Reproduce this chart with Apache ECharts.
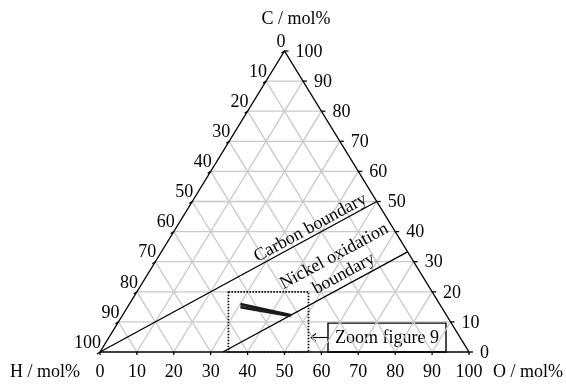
<!DOCTYPE html>
<html><head><meta charset="utf-8">
<script src="https://cdn.jsdelivr.net/npm/echarts@6/dist/echarts.min.js"></script>
<style>html,body{margin:0;padding:0;background:#fff}#chart{width:566px;height:387px}</style>
</head><body><div id="chart"></div>
<script>
// Ternary C-H-O diagram, compositions in mol% given as [H, O, C]
const ticks = [0, 10, 20, 30, 40, 50, 60, 70, 80, 90, 100];
const gridSteps = [10, 20, 30, 40, 50, 60, 70, 80, 90];
const carbonBoundary = [[100, 0, 0], [0, 50, 50]];
const nickelBoundary = [[66.7, 33.3, 0], [0, 66.7, 33.3]];
const pathA = [[54.0, 30.1, 15.9], [42.0, 45.8, 12.2]];
const pathB = [[54.5, 30.6, 14.9], [42.4, 45.6, 12.0]];
// zoomed region corners (bottom-left, top-right) as [H, O, C]
const zoomRegion = [[65.2, 34.8, 0], [33.5, 46.5, 20]];

const FONT = '18px "Liberation Serif", "Times New Roman", serif';
const INK = '#000';
const GRAY = '#c8c8c8';

// ternary -> cartesian (x along base, y = C)
function tern(p) { return [p[1] + p[2] / 2, p[2]]; }

// grid segments
const gridSegs = [];
gridSteps.forEach(k => {
  gridSegs.push([tern([100 - k, 0, k]), tern([0, 100 - k, k])]);   // constant C
  gridSegs.push([tern([100 - k, k, 0]), tern([0, k, 100 - k])]);   // constant O
  gridSegs.push([tern([k, 100 - k, 0]), tern([k, 0, 100 - k])]);   // constant H
});
const gridData = gridSegs.map(s => [s[0][0], s[0][1], s[1][0], s[1][1]]);

// tick points on each side: side 0 bottom (O), 1 right (C), 2 left (H)
const tickData = [];
ticks.forEach(t => {
  const b = tern([100 - t, t, 0]);
  tickData.push([b[0], b[1], 0, t]);
  const r = tern([0, 100 - t, t]);
  tickData.push([r[0], r[1], 1, t]);
  const l = tern([t, 0, 100 - t]);
  tickData.push([l[0], l[1], 2, t]);
});

function segSeries(name, pts, style) {
  return {
    type: 'custom', name: name, coordinateSystem: 'cartesian2d', silent: true,
    data: [0],
    renderItem: function (params, api) {
      const points = pts.map(p => api.coord(tern(p)));
      return { type: 'polyline', shape: { points: points }, style: style };
    }
  };
}

function textStyle(text, x, y, align) {
  return { text: text, x: x, y: y, fill: INK, font: FONT,
    textAlign: align, align: align, textVerticalAlign: 'middle', verticalAlign: 'middle' };
}

function boundaryLabel(line, t, lines) {
  return {
    type: 'custom', coordinateSystem: 'cartesian2d', silent: true, data: [0],
    renderItem: function (params, api) {
      const a = api.coord(tern(line[0])), b = api.coord(tern(line[1]));
      const dx = b[0] - a[0], dy = b[1] - a[1], L = Math.hypot(dx, dy);
      const nx = dy / L, ny = -dx / L;
      const bx = a[0] + dx * t, by = a[1] + dy * t;
      const rot = Math.atan2(-dy, dx);
      return {
        type: 'group',
        children: lines.map(l => ({
          type: 'text',
          x: bx + nx * l.off, y: by + ny * l.off, rotation: rot,
          style: textStyle(l.text, 0, 0, 'center')
        }))
      };
    }
  };
}

const chart = echarts.init(document.getElementById('chart'));
chart.setOption({
  animation: false,
  backgroundColor: '#fff',
  grid: { left: 100, top: 51, width: 369, height: 301 },
  xAxis: { type: 'value', min: 0, max: 100, show: false },
  yAxis: { type: 'value', min: 0, max: 100, show: false },
  series: [
    {
      type: 'custom', coordinateSystem: 'cartesian2d', silent: true,
      data: gridData,
      renderItem: function (params, api) {
        const a = api.coord([api.value(0), api.value(1)]);
        const b = api.coord([api.value(2), api.value(3)]);
        return { type: 'line', shape: { x1: a[0], y1: a[1], x2: b[0], y2: b[1] },
          style: { stroke: GRAY, lineWidth: 1.3 } };
      }
    },
    segSeries('carbon', carbonBoundary, { stroke: INK, lineWidth: 1.4, fill: null }),
    segSeries('nickel', nickelBoundary, { stroke: INK, lineWidth: 1.4, fill: null }),
    segSeries('A', pathA, { stroke: '#1a1a1a', lineWidth: 2.6, fill: null }),
    segSeries('B', pathB, { stroke: '#1a1a1a', lineWidth: 2.6, fill: null }),
    // zoom region frame
    {
      type: 'custom', coordinateSystem: 'cartesian2d', silent: true, data: [0],
      renderItem: function (params, api) {
        const bl = tern(zoomRegion[0]), tr = tern(zoomRegion[1]);
        const p0 = api.coord([bl[0], bl[1]]), p1 = api.coord([tr[0], tr[1]]);
        return {
          type: 'group', children: [
            { type: 'line', shape: { x1: p0[0], y1: p0[1], x2: p1[0], y2: p0[1] },
              style: { stroke: '#fff', lineWidth: 2 } },
            { type: 'rect', shape: { x: p0[0], y: p1[1], width: p1[0] - p0[0], height: p0[1] - p1[1] },
              style: { fill: null, stroke: INK, lineWidth: 1.7, lineDash: [1.5, 1.5] } }
          ]
        };
      }
    },
    // triangle outline
    segSeries('frame', [[100, 0, 0], [0, 100, 0], [0, 0, 100], [100, 0, 0]],
      { stroke: INK, lineWidth: 1.4, fill: null }),
    // ticks and tick labels
    {
      type: 'custom', coordinateSystem: 'cartesian2d', silent: true,
      data: tickData,
      renderItem: function (params, api) {
        const p = api.coord([api.value(0), api.value(1)]);
        const side = api.value(2), t = api.value(3);
        let tk, lab;
        if (side === 0) {
          tk = [0, 3];
          lab = { x: p[0], y: p[1] + 20, align: 'center' };
        } else if (side === 1) {
          tk = [4, 0];
          lab = { x: p[0] + 11, y: p[1] + 1, align: 'left' };
        } else {
          tk = [-3, 2];
          lab = { x: p[0] + 1, y: p[1] - 9, align: 'right' };
        }
        return {
          type: 'group', children: [
            { type: 'line', shape: { x1: p[0], y1: p[1], x2: p[0] + tk[0], y2: p[1] + tk[1] },
              style: { stroke: INK, lineWidth: 1.3 } },
            { type: 'text', style: textStyle(String(t), lab.x, lab.y, lab.align) }
          ]
        };
      }
    },
    boundaryLabel(carbonBoundary, 0.775, [{ text: 'Carbon boundary', off: 8.5 }]),
    boundaryLabel(nickelBoundary, 0.683, [{ text: 'Nickel oxidation', off: 31 }, { text: 'boundary', off: 11 }])
  ],
  graphic: [
    { type: 'text', style: textStyle('C / mol%', 296, 19, 'center') },
    { type: 'text', style: textStyle('H / mol%', 10, 372, 'left') },
    { type: 'text', style: textStyle('O / mol%', 493, 372, 'left') },
    { type: 'rect', shape: { x: 328, y: 323, width: 118, height: 29 }, style: { fill: '#fff', stroke: INK, lineWidth: 1.4 } },
    { type: 'text', style: textStyle('Zoom figure 9', 387, 338, 'center') },
    { type: 'line', shape: { x1: 311, y1: 337.5, x2: 328, y2: 337.5 }, style: { stroke: INK, lineWidth: 1.1 } },
    { type: 'polyline', shape: { points: [[316, 333.5], [311, 337.5], [316, 341.5]] }, style: { stroke: INK, lineWidth: 1.1, fill: null } }
  ]
});
</script>
</body></html>
